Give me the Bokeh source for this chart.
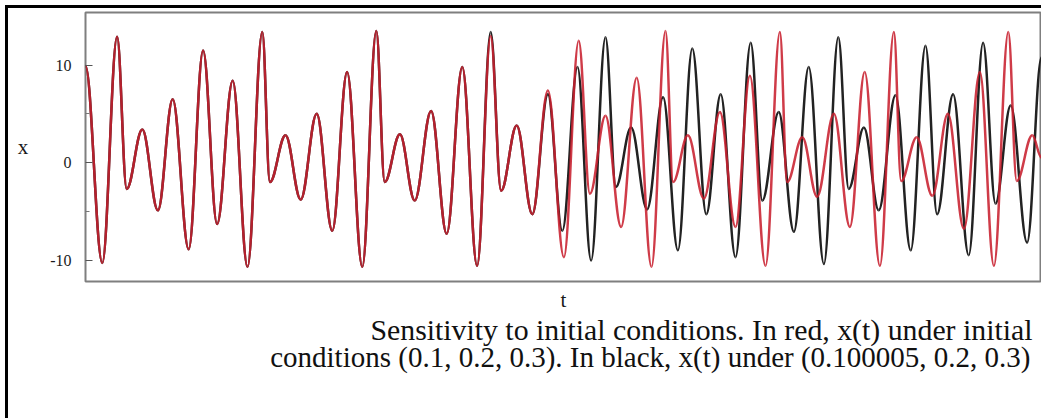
import numpy as np
from bokeh.plotting import figure
from bokeh.models import Range1d, FixedTicker, Title, ColumnDataSource
from bokeh.embed import file_html
from bokeh.resources import INLINE

# Extrema of x(t) (t in arbitrary units)
t_red = [0.0, 4.2, 7.9, 10.3, 14.2, 18.1, 21.8, 25.8, 29.4, 32.9, 36.8, 40.5, 44.2, 46.1,
         50.0, 53.8, 57.8, 61.7, 65.4, 69.2, 72.7, 74.8, 78.6, 82.3, 86.4, 90.3, 94.2, 97.9,
         101.3, 103.9, 107.8, 111.7, 115.6, 119.6, 123.3, 126.1, 130.0, 133.9, 137.8, 141.5,
         145.0, 146.9, 150.6, 154.6, 158.6, 162.5, 166.1, 170.0, 173.6, 175.4, 179.2, 182.9,
         187.1, 191.1, 194.8, 198.6, 202.1, 203.9, 207.8, 211.7, 215.6, 219.6, 223.6, 227.1,
         230.7, 232.8, 236.7, 239.0]
x_red = [9.9, -10.3, 12.9, -2.7, 3.4, -4.9, 6.5, -8.9, 11.5, -6.3, 8.4, -10.7, 13.4, -2.0,
         2.8, -3.8, 5.0, -7.0, 9.3, -10.7, 13.5, -2.0, 2.9, -3.9, 5.3, -7.3, 9.8, -10.6,
         13.0, -2.9, 3.8, -5.3, 7.4, -9.7, 12.5, -3.2, 4.8, -6.6, 8.7, -10.7,
         13.5, -2.0, 2.8, -3.7, 5.2, -6.6, 8.9, -10.6, 13.4, -2.0, 2.6, -3.5,
         5.0, -6.6, 9.3, -10.6, 13.4, -1.9, 2.6, -3.4, 5.0, -6.8, 9.3, -10.6,
         13.4, -1.9, 2.8, 0.5]

t_black = [0.0, 4.2, 7.9, 10.3, 14.2, 18.1, 21.8, 25.8, 29.4, 32.9, 36.8, 40.5, 44.2, 46.1,
           50.0, 53.8, 57.8, 61.7, 65.4, 69.2, 72.7, 74.8, 78.6, 82.3, 86.4, 90.3, 94.2, 97.9,
           101.3, 103.9, 107.8, 111.7, 115.6, 119.2, 123.0, 126.4, 130.0, 132.6, 136.4, 140.4,
           144.4, 148.1, 151.7, 155.2, 158.8, 162.5, 166.3, 169.2, 173.3, 177.1, 180.8, 184.6,
           188.2, 190.8, 194.6, 198.3, 202.5, 206.3, 210.0, 212.9, 216.9, 220.8, 224.4, 227.5,
           231.3, 235.4, 239.0]
x_black = [9.9, -10.3, 12.9, -2.7, 3.4, -4.9, 6.5, -8.9, 11.5, -6.3, 8.4, -10.7, 13.4, -2.0,
           2.8, -3.8, 5.0, -7.0, 9.3, -10.7, 13.5, -2.0, 2.9, -3.9, 5.3, -7.3, 9.8, -10.6,
           13.4, -2.9, 3.8, -5.3, 7.0, -7.0, 9.8, -10.05, 12.85, -2.5, 3.6, -4.8,
           6.7, -9.0, 11.7, -5.3, 7.0, -9.7, 12.3, -3.9, 5.2, -7.1, 9.8, -10.4,
           12.85, -2.7, 3.6, -4.9, 6.9, -9.0, 12.0, -5.3, 7.0, -9.5, 12.3, -4.2,
           5.85, -8.2, 10.8]

y_ticks = [-10, 0, 10]
y_tick_labels = ["-10", "0", "10"]
y_minor = [-5, 5]
caption_1 = "Sensitivity to initial conditions. In red, x(t) under initial"
caption_2 = "conditions (0.1, 0.2, 0.3). In black, x(t) under (0.100005, 0.2, 0.3)"

SERIF = "Liberation Serif"
K = 0.364  # smooth rendering between successive extrema


def smooth_source(t, x):
    t = np.asarray(t, float)
    x = np.asarray(x, float)
    dt = t[1:] - t[:-1]
    return ColumnDataSource(dict(
        x0=t[:-1], y0=x[:-1], x1=t[1:], y1=x[1:],
        cx0=t[:-1] + K * dt, cy0=x[:-1],
        cx1=t[1:] - K * dt, cy1=x[1:]))


p = figure(width=1033, height=410, output_backend="svg", toolbar_location=None,
           x_range=Range1d(0, 239), y_range=Range1d(-12.2, 15.4),
           min_border_left=77, min_border_top=4, min_border_right=0, min_border_bottom=137,
           background_fill_color="white", border_fill_color="white",
           styles={"margin": "8px 0 0 8px", "outline": "3px solid black"})

p.grid.visible = False
p.outline_line_color = "#7f7f7f"
p.outline_line_width = 2

# y axis
ya = p.yaxis[0]
ya.ticker = FixedTicker(ticks=y_ticks, minor_ticks=y_minor)
ya.major_label_overrides = dict(zip(y_ticks, y_tick_labels))
ya.axis_line_color = None
ya.major_tick_in = 7
ya.major_tick_out = 0
ya.minor_tick_in = 4
ya.minor_tick_out = 0
ya.major_tick_line_color = "#555555"
ya.minor_tick_line_color = "#777777"
ya.major_label_text_font = SERIF
ya.major_label_text_font_size = "16px"
ya.major_label_text_color = "#1a1a1a"
ya.major_label_standoff = 14
ya.axis_label = "x"
ya.axis_label_orientation = "horizontal"
ya.axis_label_text_font = SERIF
ya.axis_label_text_font_style = "normal"
ya.axis_label_text_font_size = "21px"
ya.axis_label_text_color = "#1a1a1a"
ya.axis_label_standoff = 19

# x axis (no ticks)
xa = p.xaxis[0]
xa.ticker = FixedTicker(ticks=[])
xa.axis_line_color = None
xa.major_tick_line_color = None
xa.minor_tick_line_color = None
xa.axis_label = "t"
xa.axis_label_text_font = SERIF
xa.axis_label_text_font_style = "normal"
xa.axis_label_text_font_size = "21px"
xa.axis_label_text_color = "#1a1a1a"
xa.axis_label_standoff = 6

# curves
p.bezier(x0="x0", y0="y0", x1="x1", y1="y1", cx0="cx0", cy0="cy0", cx1="cx1", cy1="cy1",
         source=smooth_source(t_black, x_black), line_color="#222222", line_width=2.5)
p.bezier(x0="x0", y0="y0", x1="x1", y1="y1", cx0="cx0", cy0="cy0", cx1="cx1", cy1="cy1",
         source=smooth_source(t_red, x_red), line_color="#c8202f", line_width=2.5,
         line_alpha=0.88)

# caption
for txt, off, so, fs in ((caption_1, 9, -7, "29.8px"), (caption_2, 11, -8, "29px")):
    p.add_layout(Title(text=txt, align="right", offset=off, text_font=SERIF,
                       text_font_style="normal", text_font_size=fs,
                       text_color="#111111", standoff=so), "below")

open("out.html", "w").write(file_html(p, INLINE))
